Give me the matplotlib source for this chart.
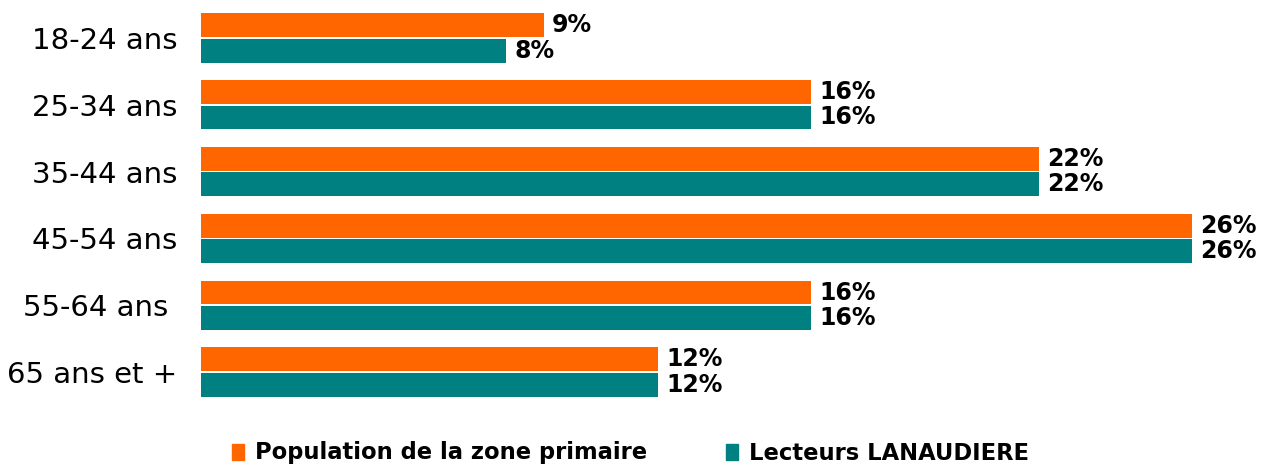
import matplotlib.pyplot as plt
import numpy as np
from matplotlib.patches import Patch

# tranches d'âge et parts (%)
categories = ["18-24 ans", "25-34 ans", "35-44 ans", "45-54 ans", "55-64 ans ", "65 ans et +"]
population = [9, 16, 22, 26, 16, 12]
lecteurs = [8, 16, 22, 26, 16, 12]
labels_series = ["Population de la zone primaire", "Lecteurs LANAUDIERE"]
colors = ["#FF6600", "#008080"]


def main():
    fig = plt.figure(figsize=(12.68, 4.66), dpi=100)
    ax = fig.add_axes([201 / 1268, 1 - 405.4 / 466, 1 - 201 / 1268, (405.4 - 4.6) / 466])

    y = np.arange(len(categories))
    h = 0.355
    off = 0.19
    ax.barh(y - off, population, height=h, color=colors[0])
    ax.barh(y + off, lecteurs, height=h, color=colors[1])

    for yi, v in zip(y, population):
        ax.annotate(f"{v}%", (v, yi - off), xytext=(6, 0), textcoords="offset points",
                    va="center", ha="left", fontsize=17, fontweight="bold")
    for yi, v in zip(y, lecteurs):
        ax.annotate(f"{v}%", (v, yi + off), xytext=(6, 0), textcoords="offset points",
                    va="center", ha="left", fontsize=17, fontweight="bold")

    ax.set_xlim(0, 1067 / 38.1)
    ax.set_ylim(len(categories) - 0.5, -0.5)
    ax.set_yticks(y)
    ax.set_yticklabels(categories, fontsize=21)
    ax.tick_params(axis="y", length=0, pad=17)
    ax.set_xticks([])
    for s in ax.spines.values():
        s.set_visible(False)

    handles = [Patch(color=c) for c in colors]
    fig.legend(handles, labels_series, loc="center", bbox_to_anchor=(0.497, 1 - 453 / 466),
               ncol=2, frameon=False, prop={"size": 16.3, "weight": "bold"},
               handlelength=0.55, handleheight=0.7, handletextpad=0.45,
               columnspacing=3.5, borderpad=0)

    fig.savefig("out.png", dpi=100)
    plt.close(fig)


if __name__ == "__main__":
    main()
